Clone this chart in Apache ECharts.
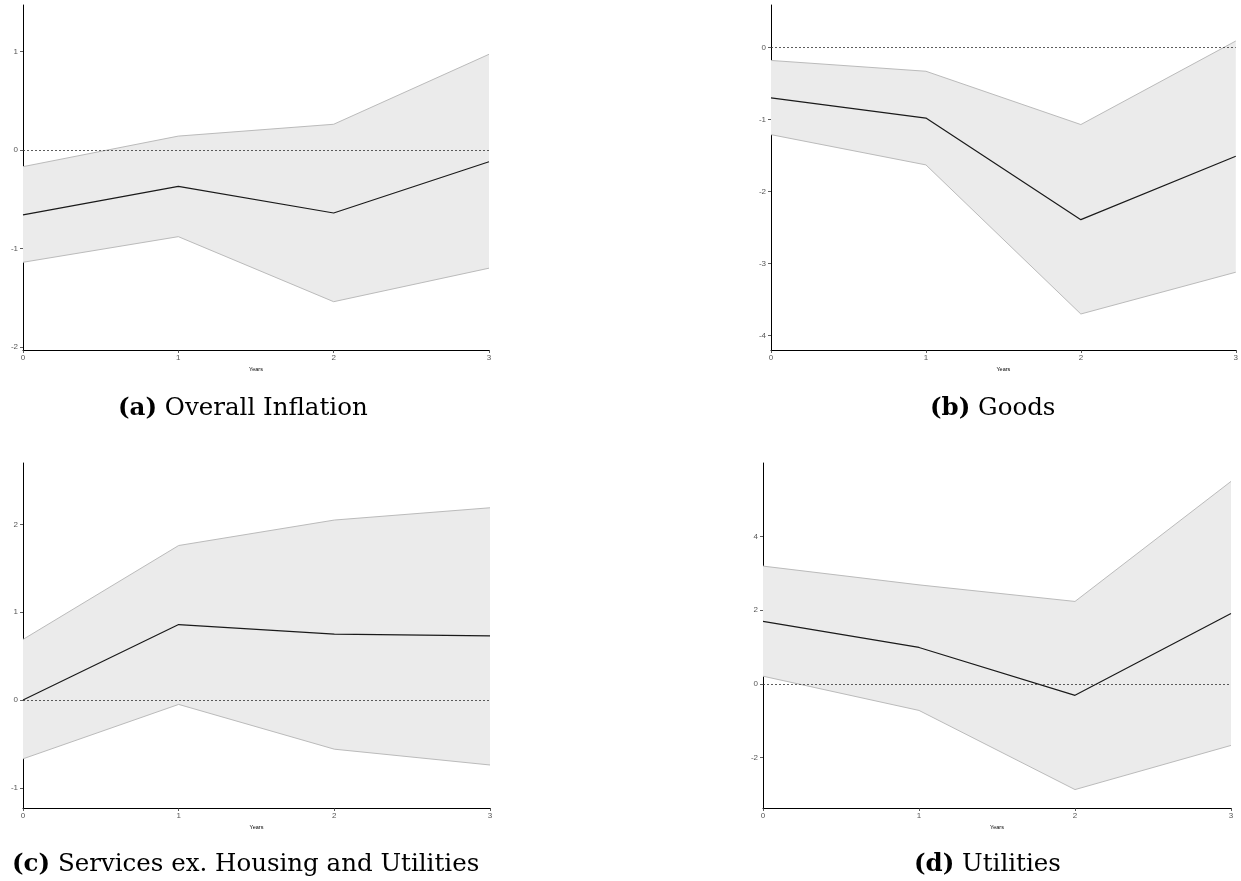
<!DOCTYPE html>
<html>
<head>
<meta charset="utf-8">
<script src="https://cdn.jsdelivr.net/npm/echarts@6/dist/echarts.min.js"></script>
<style>
html,body{margin:0;padding:0;background:#fff;}
#chart{width:1241px;height:881px;}
</style>
</head>
<body>
<div id="chart"></div>
<script>
// ---- data ----
const years = ['0', '1', '2', '3'];

const overallMean  = [-0.66, -0.37, -0.64, -0.12];
const overallUpper = [-0.17,  0.14,  0.26,  0.97];
const overallLower = [-1.14, -0.88, -1.54, -1.20];

const goodsMean  = [-0.70, -0.98, -2.39, -1.51];
const goodsUpper = [-0.18, -0.33, -1.07,  0.09];
const goodsLower = [-1.21, -1.63, -3.70, -3.12];

const servicesMean  = [ 0.00,  0.86,  0.75,  0.73];
const servicesUpper = [ 0.69,  1.76,  2.05,  2.19];
const servicesLower = [-0.67, -0.05, -0.56, -0.74];

const utilitiesMean  = [ 1.70,  0.99, -0.31,  1.91];
const utilitiesUpper = [ 3.20,  2.69,  2.24,  5.50];
const utilitiesLower = [ 0.21, -0.72, -2.87, -1.67];

const overallTicks   = [-2, -1, 0, 1];
const goodsTicks     = [-4, -3, -2, -1, 0];
const servicesTicks  = [-1, 0, 1, 2];
const utilitiesTicks = [-2, 0, 2, 4];

const captionLabels = ['(a)', '(b)', '(c)', '(d)'];
const captionTexts  = ['Overall Inflation', 'Goods', 'Services ex. Housing and Utilities', 'Utilities'];
const xAxisName = 'Years';

// ---- layout ----
const panels = [
  {mean: overallMean, upper: overallUpper, lower: overallLower, ticks: overallTicks,
   ymin: -2.03, ymax: 1.47, grid: {left: 23, top: 5, width: 466, height: 345}, cap: {left: 118, top: 396}},
  {mean: goodsMean, upper: goodsUpper, lower: goodsLower, ticks: goodsTicks,
   ymin: -4.20, ymax: 0.59, grid: {left: 771, top: 5, width: 467, height: 345}, cap: {left: 930, top: 396}},
  {mean: servicesMean, upper: servicesUpper, lower: servicesLower, ticks: servicesTicks,
   ymin: -1.23, ymax: 2.70, grid: {left: 23, top: 463, width: 467, height: 345}, cap: {left: 12, top: 852}},
  {mean: utilitiesMean, upper: utilitiesUpper, lower: utilitiesLower, ticks: utilitiesTicks,
   ymin: -3.37, ymax: 6.0, grid: {left: 763, top: 463, width: 468, height: 345}, cap: {left: 914, top: 852}}
];

const grids = [], xAxes = [], yAxes = [], series = [], titles = [];
const labelColor = '#555';

panels.forEach((p, i) => {
  grids.push(Object.assign({containLabel: false}, p.grid));
  xAxes.push({
    type: 'category', gridIndex: i, data: years, boundaryGap: false,
    name: xAxisName, nameLocation: 'middle', nameGap: 16,
    nameTextStyle: {fontSize: 5.5, color: '#000', fontFamily: 'Liberation Sans'},
    axisLine: {onZero: false, lineStyle: {color: '#000', width: 1}},
    axisTick: {show: true, length: 3, alignWithLabel: true, lineStyle: {color: '#333', width: 0.8}},
    axisLabel: {fontSize: 8, color: labelColor, margin: 4, fontFamily: 'Liberation Sans'},
    splitLine: {show: false}
  });
  yAxes.push({
    type: 'value', gridIndex: i, min: p.ymin, max: p.ymax,
    axisLine: {show: true, onZero: false, lineStyle: {color: '#000', width: 1}},
    axisTick: {show: true, length: 3, customValues: p.ticks, lineStyle: {color: '#333', width: 0.8}},
    axisLabel: {fontSize: 8, color: labelColor, margin: 5, customValues: p.ticks, fontFamily: 'Liberation Sans'},
    splitLine: {show: false}
  });
  const stackName = 'band' + i;
  series.push({
    type: 'line', xAxisIndex: i, yAxisIndex: i, data: p.lower,
    stack: stackName, stackStrategy: 'all', symbol: 'none', silent: true,
    lineStyle: {opacity: 0}, areaStyle: {opacity: 0}, z: 1
  });
  series.push({
    type: 'line', xAxisIndex: i, yAxisIndex: i, data: p.upper.map((u, k) => u - p.lower[k]),
    stack: stackName, stackStrategy: 'all', symbol: 'none', silent: true,
    lineStyle: {opacity: 0}, areaStyle: {color: '#ebebeb', opacity: 1}, z: 1
  });
  series.push({
    type: 'line', xAxisIndex: i, yAxisIndex: i, data: p.upper,
    symbol: 'none', silent: true, lineStyle: {color: '#bbbbbb', width: 1}, z: 2
  });
  series.push({
    type: 'line', xAxisIndex: i, yAxisIndex: i, data: p.lower,
    symbol: 'none', silent: true, lineStyle: {color: '#bbbbbb', width: 1}, z: 2
  });
  series.push({
    type: 'line', xAxisIndex: i, yAxisIndex: i, data: p.mean,
    symbol: 'none', silent: true, lineStyle: {color: '#1a1a1a', width: 1.2}, z: 4,
    markLine: {
      silent: true, symbol: 'none', label: {show: false},
      lineStyle: {color: '#333', type: [2, 2], width: 0.8},
      data: [{yAxis: 0}], z: 3
    }
  });
  titles.push({
    left: p.cap.left, top: p.cap.top, padding: 0,
    text: '{b|' + captionLabels[i] + '} ' + captionTexts[i],
    textStyle: {
      fontFamily: 'DejaVu Serif', fontSize: 24.5, fontWeight: 'normal', color: '#000',
      rich: {b: {fontFamily: 'DejaVu Serif', fontSize: 24.5, fontWeight: 'bold', color: '#000'}}
    }
  });
});

const chart = echarts.init(document.getElementById('chart'), null, {renderer: 'canvas'});
chart.setOption({
  animation: false,
  backgroundColor: '#fff',
  title: titles,
  grid: grids,
  xAxis: xAxes,
  yAxis: yAxes,
  series: series
});
</script>
</body>
</html>
